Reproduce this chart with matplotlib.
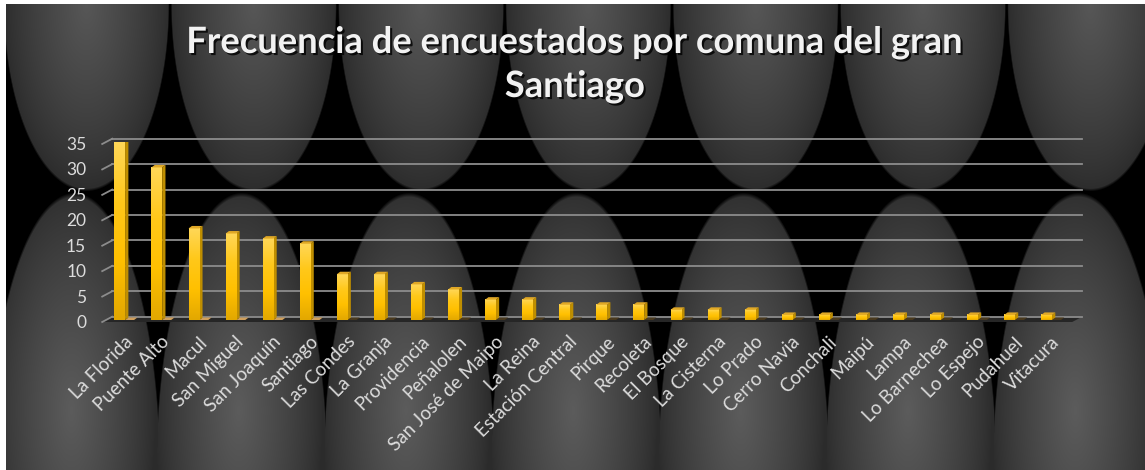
import numpy as np
import matplotlib
matplotlib.use('Agg')
import matplotlib.pyplot as plt
from matplotlib.colors import LinearSegmentedColormap
from matplotlib.patches import Polygon
from matplotlib.transforms import offset_copy
import matplotlib.patheffects as pe

# data
comunas = ['La Florida', 'Puente Alto', 'Macul', 'San Miguel', 'San Joaquín',
           'Santiago', 'Las Condes', 'La Granja', 'Providencia', 'Peñalolen',
           'San José de Maipo', 'La Reina', 'Estación Central', 'Pirque',
           'Recoleta', 'El Bosque', 'La Cisterna', 'Lo Prado', 'Cerro Navia',
           'Conchali', 'Maipú', 'Lampa', 'Lo Barnechea', 'Lo Espejo',
           'Pudahuel', 'Vitacura']
frecuencia = [35, 30, 18, 17, 16, 15, 9, 9, 7, 6, 4, 4, 3, 3, 3, 2, 2, 2,
              1, 1, 1, 1, 1, 1, 1, 1]
y_ticks = [0, 5, 10, 15, 20, 25, 30, 35]
title_lines = ['Frecuencia de encuestados por comuna del gran', 'Santiago']

W, H, DPI = 1145, 470, 100
FONT = ['Lato', 'DejaVu Sans']
grid_color = '#8c8c8c'
text_color = '#dcdcdc'


def make_background(w, h):
    # black sheet with the grey "dome" texture, plus the thin white frame
    yy, xx = np.mgrid[0:h, 0:w].astype(float)
    img = np.zeros((h, w))
    for cx in 86 + 167.3 * np.arange(7):
        r = np.hypot((xx - cx) / 83.0, (yy - 4) / 187.0)
        mask = np.clip((1 - r) * 60, 0, 1)
        shade = 0.17 + 0.17 * np.clip(1 - r, 0, 1) ** 0.8
        img = np.maximum(img, mask * shade)

        r = np.hypot((xx - cx + 12) / 86.0, (yy - 470) / 278.0)
        mask = np.clip((1 - r) * 60, 0, 1)
        r2 = np.hypot((xx - cx + 15) / 84.0, (yy - 410) / 230.0)
        shade = 0.17 + 0.19 * np.clip(1 - r2, 0, 1) ** 0.8
        img = np.maximum(img, mask * shade)
    rgb = np.dstack([img] * 3)
    rgb[:, :6] = 1.0
    rgb[:4, :] = 1.0
    return rgb


fig = plt.figure(figsize=(W / DPI, H / DPI), dpi=DPI)
fig.patch.set_facecolor('white')

bg = fig.add_axes([0, 0, 1, 1], zorder=0)
bg.imshow(make_background(W, H), extent=[0, W, H, 0], aspect='auto',
          interpolation='bilinear')
bg.set_xlim(0, W)
bg.set_ylim(H, 0)
bg.axis('off')

# plot area (pixels): plane of the bar fronts
ax_left, ax_bottom, ax_w, ax_h = 101.2, 150, 964, 178
ax = fig.add_axes([ax_left / W, ax_bottom / H, ax_w / W, ax_h / H], zorder=1)
ax.patch.set_alpha(0)
for s in ax.spines.values():
    s.set_visible(False)
ax.set_xticks([])
ax.set_yticks([])

n = len(comunas)
ymax = max(y_ticks)
px_x = ax_w / n
px_y = ax_h / ymax


def dx(p):
    return p / px_x


def dy(p):
    return p / px_y


# walls / floor of the 3d box
x_f0 = -0.5 + dx(1)
x_f1 = x_f0 + dx(970)
f_dy = dy(-2)
b_dx, b_dy = dx(10), dy(5.3)

floor = Polygon([(x_f0, f_dy), (x_f1, f_dy), (x_f1 + b_dx, f_dy + b_dy),
                 (x_f0 + b_dx, f_dy + b_dy)], closed=True,
                facecolor='#262626', edgecolor='none', zorder=1.5,
                clip_on=False)
ax.add_patch(floor)

for v in y_ticks:
    ax.plot([x_f0 + b_dx, x_f1 + b_dx], [v + f_dy + b_dy] * 2,
            color=grid_color, lw=1.3, clip_on=False, zorder=2)
    ax.plot([x_f0, x_f0 + b_dx], [v + f_dy, v + f_dy + b_dy],
            color=grid_color, lw=1.3, clip_on=False, zorder=2)
    ax.text(x_f0, v + f_dy, str(v),
            transform=offset_copy(ax.transData, fig=fig, x=-16, y=-1,
                                  units='dots'),
            ha='right', va='center', fontsize=12.5, color=text_color,
            family=FONT)

# bars
bar_cmap = LinearSegmentedColormap.from_list(
    'gold', ['#e3a800', '#ffc000', '#ffc81a', '#ffd757'])
bw = dx(10.7)
ddx, ddy = dx(3.3), dy(2.5)
xs = np.arange(n)
bars = ax.bar(xs, frecuencia, width=bw, color='#ffc000', linewidth=0,
              zorder=4)
grad = np.linspace(1, 0, 64).reshape(-1, 1)
for rect, v in zip(bars, frecuencia):
    x0 = rect.get_x()
    x1 = x0 + rect.get_width()
    shadow = '#cf9f5c' if v >= 15 else '#4a3a1e'
    ax.add_patch(Polygon([(x1, 0), (x1 + dx(9), 0), (x1 + dx(9) + ddx, ddy),
                          (x1 + ddx, ddy)], closed=True, facecolor=shadow,
                         edgecolor='none', zorder=3))
    ax.imshow(grad, extent=[x0, x1, 0, v], aspect='auto', cmap=bar_cmap,
              vmin=0, vmax=1, zorder=4.1, interpolation='bilinear')
    ax.add_patch(Polygon([(x1, 0), (x1 + ddx, ddy), (x1 + ddx, v + ddy),
                          (x1, v)], closed=True, facecolor='#bf8e00',
                         edgecolor='none', zorder=4))
    ax.add_patch(Polygon([(x0, v), (x1, v), (x1 + ddx, v + ddy),
                          (x0 + ddx, v + ddy)], closed=True,
                         facecolor='#e0a826', edgecolor='none', zorder=4.2))

ax.set_xlim(-0.5, n - 0.5)
ax.set_ylim(0, ymax)

# category labels
for i, name in enumerate(comunas):
    ax.text(xs[i], 0, name,
            transform=offset_copy(ax.transData, fig=fig, x=4, y=-13,
                                  units='dots'),
            rotation=45, rotation_mode='anchor', ha='right', va='top',
            fontsize=13.5, color=text_color, family=FONT)

# title, sized to the width of the original
renderer = fig.canvas.get_renderer()
probe = fig.text(0, 0, title_lines[0], fontsize=20, fontweight='bold',
                 family=FONT)
tw = probe.get_window_extent(renderer).width
probe.remove()
title_size = 20 * 776 / tw
shadow_fx = [pe.withSimplePatchShadow(offset=(1.5, -1.5),
                                      shadow_rgbFace='black', alpha=0.8)]
for line, base in zip(title_lines, [53, 97]):
    fig.text(575 / W, 1 - base / H, line, ha='center', va='baseline',
             fontsize=title_size, fontweight='bold', family=FONT,
             color='#f2f2f2', path_effects=shadow_fx)

fig.savefig('out.png', dpi=DPI, facecolor=fig.get_facecolor())
